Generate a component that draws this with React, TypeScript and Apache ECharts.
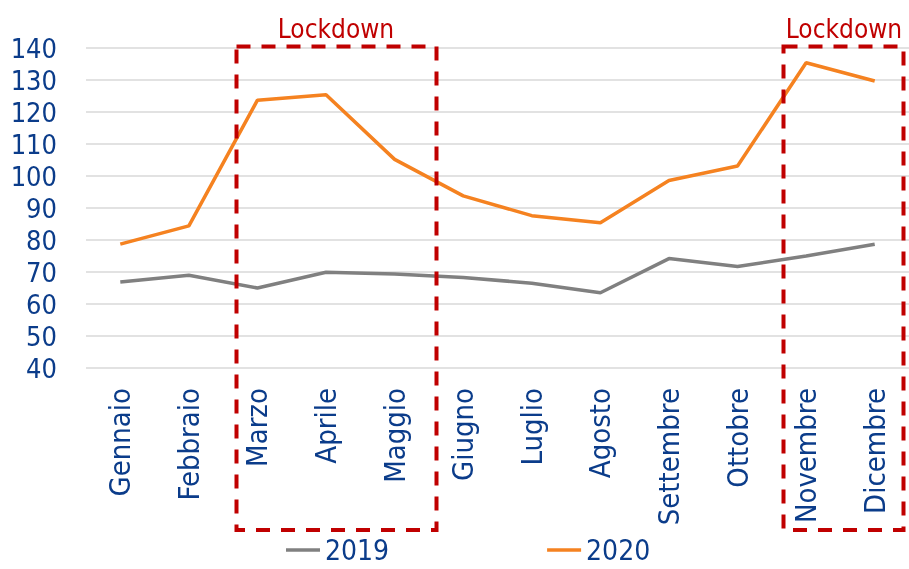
import React, { useEffect, useRef } from "react";
import * as echarts from "echarts";

const categories = ["Gennaio", "Febbraio", "Marzo", "Aprile", "Maggio", "Giugno", "Luglio", "Agosto", "Settembre", "Ottobre", "Novembre", "Dicembre"];
const series2019 = [66.9, 69.0, 65.0, 69.9, 69.4, 68.3, 66.5, 63.5, 74.2, 71.7, 75.0, 78.7];
const series2020 = [78.7, 84.4, 123.7, 125.4, 105.2, 93.8, 87.6, 85.4, 98.6, 103.1, 135.4, 129.7];
const seriesNames = ["2019", "2020"];
const lockdownLabel = "Lockdown";

const FONT = "'DejaVu Sans Condensed', 'DejaVu Sans', sans-serif";
const BLUE = "#0B3C8A";
const RED = "#C00000";

export default function App() {
  const ref = useRef<HTMLDivElement>(null);
  useEffect(() => {
    if (!ref.current) return;
    const chart = echarts.init(ref.current, null, { renderer: "svg" });
    const dashed = { stroke: RED, lineWidth: 4, lineDash: [14, 11], fill: "none" };
    chart.setOption({
      animation: false,
      textStyle: { fontFamily: FONT },
      grid: { left: 86, top: 48, width: 828, height: 320, containLabel: false },
      legend: {
        data: seriesNames,
        bottom: 0,
        left: 281,
        itemGap: 158,
        itemWidth: 34,
        itemHeight: 3.5,
        icon: "rect",
        textStyle: { color: BLUE, fontSize: 28, fontFamily: FONT },
      },
      xAxis: {
        type: "category",
        data: categories,
        boundaryGap: true,
        axisLine: { show: false },
        axisTick: { show: false },
        axisLabel: { rotate: 90, color: BLUE, fontSize: 29, margin: 20, fontFamily: FONT, interval: 0 },
      },
      yAxis: {
        type: "value",
        min: 40,
        max: 140,
        interval: 10,
        axisLine: { show: false },
        axisTick: { show: false },
        splitLine: { lineStyle: { color: "#D9D9D9", width: 1.5 } },
        axisLabel: { color: BLUE, fontSize: 27, margin: 29, fontFamily: FONT },
      },
      series: [
        { name: seriesNames[0], type: "line", data: series2019, symbol: "none", lineStyle: { color: "#808080", width: 3.5 }, itemStyle: { color: "#808080" } },
        { name: seriesNames[1], type: "line", data: series2020, symbol: "none", lineStyle: { color: "#F58220", width: 3.5 }, itemStyle: { color: "#F58220" } },
      ],
      graphic: [
        { type: "rect", shape: { x: 236.5, y: 46.5, width: 200, height: 483.5 }, style: dashed, z: 10 },
        { type: "rect", shape: { x: 783.5, y: 46.5, width: 120, height: 483.5 }, style: dashed, z: 10 },
        { type: "text", x: 336, y: 29, style: { text: lockdownLabel, fill: RED, fontSize: 26, fontFamily: FONT, align: "center", verticalAlign: "middle" }, z: 10 },
        { type: "text", x: 844, y: 29, style: { text: lockdownLabel, fill: RED, fontSize: 26, fontFamily: FONT, align: "center", verticalAlign: "middle" }, z: 10 },
      ],
    });
    return () => chart.dispose();
  }, []);
  return <div ref={ref} style={{ position: "fixed", left: 0, top: 0, width: 909, height: 569 }} />;
}
